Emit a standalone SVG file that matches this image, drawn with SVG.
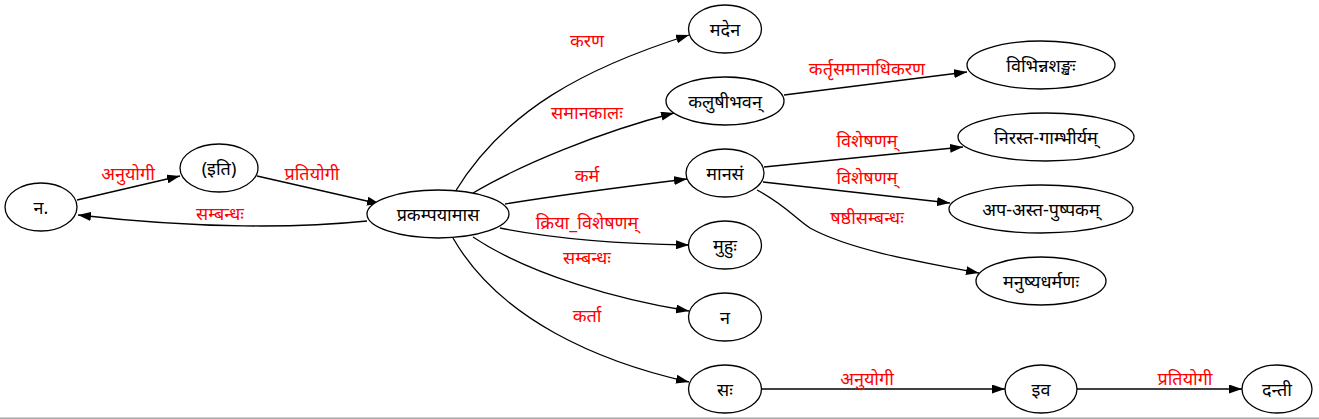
<svg xmlns="http://www.w3.org/2000/svg" width="1319" height="419" viewBox="0 0 1319 419">
<defs>
<style>
.n ellipse{fill:#fff;stroke:#000;stroke-width:1.3}
.n text{font-family:"Noto Sans","Noto Sans Devanagari","Lohit Devanagari","DejaVu Sans",sans-serif;font-size:18px;fill:#000;text-anchor:middle;dominant-baseline:central}
.e path{fill:none;stroke:#000;stroke-width:1.3}
.l{font-family:"Noto Sans","Noto Sans Devanagari","Lohit Devanagari","DejaVu Sans",sans-serif;font-size:18px;fill:#ff0000;text-anchor:middle;dominant-baseline:central}
</style>
<marker id="ah" viewBox="0 0 13 9" refX="13" refY="4.5" markerWidth="13" markerHeight="9" markerUnits="userSpaceOnUse" orient="auto">
<path d="M0,0 L13,4.5 L0,9 Z" fill="#000"/>
</marker>
</defs>
<rect x="0" y="0" width="1319" height="419" fill="#fff"/>
<g id="edges" class="e">
<path d="M77,200 L180,176" marker-end="url(#ah)"/>
<path d="M257,176 L380,204" marker-end="url(#ah)"/>
<path d="M367,221 C300,228 200,229 78,215" marker-end="url(#ah)"/>
<path d="M455,192 C505,110 585,68 689,35" marker-end="url(#ah)"/>
<path d="M473,193 C520,165 600,132 674,113" marker-end="url(#ah)"/>
<path d="M505,204 C560,195 630,186 687,179" marker-end="url(#ah)"/>
<path d="M500,228 C560,240 630,244 689,245" marker-end="url(#ah)"/>
<path d="M473,237 C530,275 620,300 689,311" marker-end="url(#ah)"/>
<path d="M453,238 C500,320 600,362 689,382" marker-end="url(#ah)"/>
<path d="M784,95 L967,72" marker-end="url(#ah)"/>
<path d="M764,167 L963,147" marker-end="url(#ah)"/>
<path d="M763,182 L950,203" marker-end="url(#ah)"/>
<path d="M757,190 C785,205 795,218 810,228 C850,250 920,262 979,273" marker-end="url(#ah)"/>
<path d="M762,389 L1005,389" marker-end="url(#ah)"/>
<path d="M1077,389 L1242,389" marker-end="url(#ah)"/>
<text class="l" x="128" y="173">अनुयोगी</text>
<text class="l" x="312" y="173">प्रतियोगी</text>
<text class="l" x="220" y="213">सम्बन्धः</text>
<text class="l" x="587" y="40">करण</text>
<text class="l" x="587" y="112">समानकालः</text>
<text class="l" x="587" y="175">कर्म</text>
<text class="l" x="587" y="222">क्रिया_विशेषणम्</text>
<text class="l" x="587" y="257">सम्बन्धः</text>
<text class="l" x="587" y="315">कर्ता</text>
<text class="l" x="867" y="68">कर्तृसमानाधिकरण</text>
<text class="l" x="867" y="140">विशेषणम्</text>
<text class="l" x="867" y="177">विशेषणम्</text>
<text class="l" x="867" y="217">षष्ठीसम्बन्धः</text>
<text class="l" x="867" y="378">अनुयोगी</text>
<text class="l" x="1185" y="378">प्रतियोगी</text>
</g>
<g id="n1" class="n"><ellipse cx="41" cy="207" rx="36" ry="24"/><text x="41" y="207">न.</text></g>
<g id="n2" class="n"><ellipse cx="219" cy="168" rx="39" ry="24"/><text x="219" y="168">(इति)</text></g>
<g id="n3" class="n"><ellipse cx="438" cy="214" rx="71" ry="24"/><text x="438" y="214">प्रकम्पयामास</text></g>
<g id="n4" class="n"><ellipse cx="725" cy="29" rx="36.5" ry="24"/><text x="725" y="29">मदेन</text></g>
<g id="n5" class="n"><ellipse cx="725" cy="101" rx="59" ry="24"/><text x="725" y="101">कलुषीभवन्</text></g>
<g id="n6" class="n"><ellipse cx="725" cy="173" rx="39" ry="24"/><text x="725" y="173">मानसं</text></g>
<g id="n7" class="n"><ellipse cx="725" cy="245" rx="36.5" ry="24"/><text x="725" y="245">मुहुः</text></g>
<g id="n8" class="n"><ellipse cx="725" cy="317" rx="36.5" ry="24"/><text x="725" y="317">न</text></g>
<g id="n9" class="n"><ellipse cx="725" cy="389" rx="36.5" ry="24"/><text x="725" y="389">सः</text></g>
<g id="n10" class="n"><ellipse cx="1041" cy="65" rx="74" ry="24"/><text x="1041" y="65">विभिन्नशङ्खः</text></g>
<g id="n11" class="n"><ellipse cx="1046" cy="137" rx="88" ry="24"/><text x="1046" y="137">निरस्त-गाम्भीर्यम्</text></g>
<g id="n12" class="n"><ellipse cx="1041" cy="209" rx="92" ry="24"/><text x="1041" y="209">अप-अस्त-पुष्पकम्</text></g>
<g id="n13" class="n"><ellipse cx="1041" cy="281" rx="65" ry="24"/><text x="1041" y="281">मनुष्यधर्मणः</text></g>
<g id="n14" class="n"><ellipse cx="1041" cy="389" rx="36" ry="24"/><text x="1041" y="389">इव</text></g>
<g id="n15" class="n"><ellipse cx="1277" cy="389" rx="35" ry="24"/><text x="1277" y="389">दन्ती</text></g>
<rect x="0" y="417.5" width="1319" height="1.5" fill="#a8a8a8"/>
</svg>
